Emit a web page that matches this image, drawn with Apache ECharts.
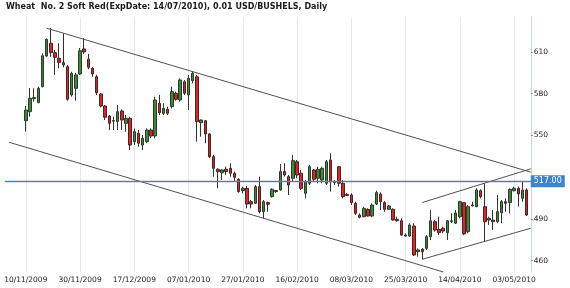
<!DOCTYPE html>
<html><head><meta charset="utf-8">
<script src="https://cdn.jsdelivr.net/npm/echarts@6/dist/echarts.min.js"></script>
<style>html,body{margin:0;padding:0;background:#fff}#c{width:570px;height:288px}</style>
</head><body><div id="c"></div>
<script>
const titleText = 'Wheat  No. 2 Soft Red(ExpDate: 14/07/2010), 0.01 USD/BUSHELS, Daily';
const leadDays = ['03/11/2009','04/11/2009','05/11/2009','06/11/2009','09/11/2009'];
const tradeDays = [
'10/11/2009','11/11/2009','12/11/2009','13/11/2009','16/11/2009','17/11/2009','18/11/2009','19/11/2009','20/11/2009','23/11/2009','24/11/2009','25/11/2009','27/11/2009','30/11/2009',
'01/12/2009','02/12/2009','03/12/2009','04/12/2009','07/12/2009','08/12/2009','09/12/2009','10/12/2009','11/12/2009','14/12/2009','15/12/2009','16/12/2009','17/12/2009','18/12/2009','21/12/2009','22/12/2009','23/12/2009','24/12/2009','28/12/2009','29/12/2009','30/12/2009','31/12/2009',
'04/01/2010','05/01/2010','06/01/2010','07/01/2010','08/01/2010','11/01/2010','12/01/2010','13/01/2010','14/01/2010','15/01/2010','19/01/2010','20/01/2010','21/01/2010','22/01/2010','25/01/2010','26/01/2010','27/01/2010','28/01/2010','29/01/2010',
'01/02/2010','02/02/2010','03/02/2010','04/02/2010','05/02/2010','08/02/2010','09/02/2010','10/02/2010','11/02/2010','12/02/2010','16/02/2010','17/02/2010','18/02/2010','19/02/2010','23/02/2010','24/02/2010','25/02/2010','26/02/2010',
'01/03/2010','02/03/2010','03/03/2010','04/03/2010','05/03/2010','08/03/2010','09/03/2010','10/03/2010','11/03/2010','12/03/2010','15/03/2010','16/03/2010','17/03/2010','18/03/2010','19/03/2010','22/03/2010','23/03/2010','24/03/2010','25/03/2010','26/03/2010','29/03/2010','30/03/2010','31/03/2010',
'01/04/2010','05/04/2010','06/04/2010','07/04/2010','08/04/2010','09/04/2010','12/04/2010','13/04/2010','14/04/2010','15/04/2010','16/04/2010','19/04/2010','20/04/2010','21/04/2010','22/04/2010','23/04/2010','26/04/2010','27/04/2010','28/04/2010','29/04/2010','30/04/2010',
'03/05/2010','04/05/2010','05/05/2010','06/05/2010'];
const tailDays = ['07/05/2010'];

const opens = [560.6,567.1,576.4,573.6,585.1,607.1,616.3,609.5,605.5,602.3,
599.4,579.1,583.9,594.2,612.2,604.8,598.3,592.2,579.8,571.2,
564,560.3,559.9,567.6,558.7,562.3,545.5,551.6,543.1,545.5,
553.9,549.6,573.1,565.9,568.8,570.7,580.3,575.5,588.6,579.1,
589.4,592.2,559.2,560.6,551.1,534.7,525.7,523.2,525.7,526.4,
522.8,518.5,510.3,512,502.4,501.2,513.2,495.2,501.7,506,
510.4,510.8,524,520.4,519.2,531.1,522.8,508.4,515.6,525.2,
519.2,518,515.6,532.4,516.2,527.5,515.6,507.6,507.2,501.2,
492.8,491.6,496.9,492.1,500.7,507.9,501.7,496.9,496.9,489.7,
488.7,477.7,477.7,484.9,466.4,468.2,468.9,477.2,488,482.5,
483.3,480.1,488,486.9,491.6,501.7,480.8,500,498.8,510.3,
498.8,489.2,489.2,488,494.5,502.4,501.7,510.3,512,504.8,510.8];
const closes = [568.3,576.7,577.3,583.9,607.3,619.1,609.5,606.2,602.6,600.7,
576,594.7,593.5,610.9,610,599,594.2,580.7,571.2,563.1,
558.7,560.8,567.1,561.1,562.3,543.1,552.7,544.4,548,553.9,
549.6,575.5,566.4,569.5,565.9,581.5,576,589.9,580.3,591.1,
594.7,559.9,561.1,551.1,534.7,526.4,524,525.2,524,522.8,
519.9,509.6,512,500.7,500.7,513.2,495.2,502.4,500.5,511.3,
509.7,524,521.6,514.4,531.9,521.6,512,516.8,527.5,518.5,
525.7,526.4,531.1,516.8,516.9,515.6,506,506.8,501.7,494,
491.2,497.6,492.1,500,508.9,502.4,496.9,499.3,489.2,488.7,
478.4,478.4,485.6,464.1,467.7,466.4,477.2,488.7,482,480.1,
481.3,488.7,488.7,494.3,502.4,479.2,498.8,499.3,510.8,506,
488,490.4,488,495.2,502.4,501.2,511.3,512,507.9,510.8,492.8];
const lows = [552.7,563.5,574.3,573.1,584.5,606.6,606.6,593.5,598.3,599,
575,577.9,575,593.5,608.6,597.6,592.2,579.1,570.2,561.1,
553.9,553.9,553.9,553.9,552.7,539.5,543.1,541.9,539.5,544.4,
548,548,564.7,564.7,564.7,569.5,575,574.3,579.1,568.3,
587.5,545.5,549.1,544.4,533.6,520.4,512,518,521.6,520.4,
516.8,508.9,508.4,497.6,497.6,500.7,494,490.4,495.2,505.3,
508.6,510.3,520.4,507.2,516.8,519.2,510.8,504.8,514.4,517.3,
515.6,515.6,514.4,509.6,514.4,513.2,504.8,506.5,500,492.8,
490.4,491.2,491.6,491.2,500,496.4,495.2,496.4,488.7,488,
477.7,477.2,477.2,463.3,462.8,461,467.7,474.8,480.8,478.4,
479.7,474.8,486.9,486.4,490.4,478.4,479.7,499.1,498.4,504.8,
473.7,485.6,482,486.9,486.9,495.2,494,509.6,498.8,502.4,492.1];
const highs = [571.2,584.1,583.9,585.1,609.1,619.8,627.3,611.4,616.3,623.4,
600.7,595.8,595.1,612.9,619.8,608.6,599,593.5,580.3,571.9,
564.7,563.5,571.9,568.8,564.7,563.5,555.1,553.9,550.3,555.1,
555.1,577.9,579.1,573.1,570.7,585.1,581.5,591.1,589.9,593.5,
595.8,593.5,561.5,561.1,551.6,536,526.4,525.7,527.5,530,
524,519.2,513.2,513.7,503.6,514.4,520.4,503.6,502.4,512,
510.8,529.5,530,521.6,536,532.4,525.2,518,528.8,525.9,
527.5,527.5,532.4,537.2,518,528,518,508.6,508.4,502.4,
494,498.8,497.6,501.2,510.3,509.1,502.9,500,497.6,491.6,
490.4,479.6,486.9,486.9,468.9,469.1,478.4,496.4,489.2,491.6,
484.4,489.2,494,496.4,503.1,502.2,500,502.4,512,511.3,
515.6,491.6,496.4,507.2,503.6,504.8,512,513.2,513.2,516.8,512];

const tickLabels = ['10/11/2009','30/11/2009','17/12/2009','07/01/2010','27/01/2010','16/02/2010','08/03/2010','25/03/2010','14/04/2010','03/05/2010'];
const yTicks = [460, 490, 550, 580, 610];
const refLevel = 517;
const channelTop = [['17/11/2009', 627.1], ['07/05/2010', 523.6]];
const channelBottom = [['04/11/2009', 545.1], ['08/04/2010', 451.9]];
const rangeTop = [['31/03/2010', 501.8], ['07/05/2010', 526.0]];
const rangeBottom = [['31/03/2010', 461.0], ['07/05/2010', 483.3]];

const categories = leadDays.concat(tradeDays, tailDays);
const candles = tradeDays.map((d, i) => [opens[i], closes[i], lows[i], highs[i]]);
const seriesData = leadDays.map(() => '-').concat(candles, tailDays.map(() => '-'));

const chart = echarts.init(document.getElementById('c'), null, {renderer: 'canvas'});
const isTick = (idx, val) => tickLabels.indexOf(val) >= 0;
function trend(data) {
  return {type: 'line', data: data, symbol: 'none', silent: true, z: 4, clip: false,
    lineStyle: {color: '#505050', width: 1}, animation: false};
}
chart.setOption({
  animation: false,
  backgroundColor: '#ffffff',
  title: {text: titleText, left: 6, top: 3, padding: 0,
    textStyle: {fontFamily: 'DejaVu Sans', fontWeight: 'bold', fontSize: 8, color: '#1a1a1a'}},
  grid: {left: 4.93, right: 39.23, top: 17, bottom: 16, containLabel: false},
  xAxis: {
    type: 'category', data: categories, boundaryGap: false,
    axisLine: {show: false}, axisTick: {show: false},
    axisLabel: {interval: isTick, fontFamily: 'DejaVu Sans', fontSize: 7.5, color: '#222', margin: 4},
    splitLine: {show: true, interval: isTick, lineStyle: {color: '#e3eaf1', width: 1}}
  },
  yAxis: {
    type: 'value', position: 'right', min: 451.84, max: 635.16, scale: true,
    axisLine: {show: true, lineStyle: {color: '#c9d6e3', width: 1}},
    axisTick: {show: true, length: 2, customValues: yTicks, lineStyle: {color: '#888'}},
    axisLabel: {customValues: yTicks, fontFamily: 'DejaVu Sans', fontSize: 7.5, color: '#222', margin: 3},
    splitLine: {show: false}
  },
  series: [
    {
      type: 'candlestick', data: seriesData, barWidth: 3, z: 3,
      itemStyle: {color: '#3a8a34', color0: '#ee1c1c', borderColor: '#2f3a2f', borderColor0: '#3a2a2a', borderWidth: 1},
      markLine: {
        silent: true, symbol: 'none', animation: false,
        data: [{yAxis: refLevel}],
        lineStyle: {color: '#3f86d2', width: 1.3, type: 'solid'},
        label: {show: true, position: 'end', distance: 0, formatter: refLevel.toFixed(2),
          color: '#ffffff', backgroundColor: '#3a84d4', padding: [2, 3, 2, 3],
          fontFamily: 'DejaVu Sans', fontSize: 8}
      }
    },
    trend(channelTop), trend(channelBottom), trend(rangeTop), trend(rangeBottom)
  ]
});
</script></body></html>
